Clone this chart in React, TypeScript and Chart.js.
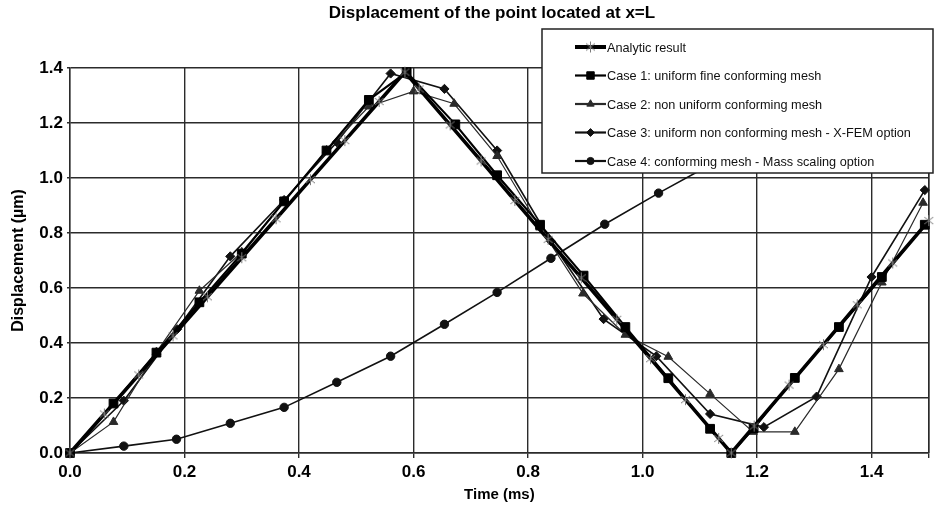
import React, { useEffect, useRef } from 'react';
import { Chart, registerables } from 'chart.js';

Chart.register(...registerables);

// ---------- text ----------
const chartTitle = 'Displacement of the point located at x=L';
const xAxisTitle = 'Time (ms)';
const yAxisTitle = 'Displacement (µm)';
const seriesNames = [
  'Analytic result',
  'Case 1: uniform fine conforming mesh',
  'Case 2: non uniform conforming mesh',
  'Case 3: uniform non conforming mesh - X-FEM option',
  'Case 4: conforming mesh - Mass scaling option',
];

// ---------- ticks ----------
const xTickValues = [0, 0.2, 0.4, 0.6, 0.8, 1.0, 1.2, 1.4, 1.5];
const xTickLabels = ['0.0', '0.2', '0.4', '0.6', '0.8', '1.0', '1.2', '1.4', ''];
const yTickValues = [0, 0.2, 0.4, 0.6, 0.8, 1.0, 1.2, 1.4];
const yTickLabels = ['0.0', '0.2', '0.4', '0.6', '0.8', '1.0', '1.2', '1.4'];

// ---------- data (time in ms, displacement in µm) ----------
const analyticT = [0, 0.06, 0.12, 0.18, 0.24, 0.3, 0.36, 0.42, 0.48, 0.54, 0.585, 0.61, 0.664, 0.718, 0.777, 0.835, 0.893, 0.955, 1.014, 1.075, 1.133, 1.155, 1.195, 1.256, 1.316, 1.375, 1.437, 1.5];
const analyticY = [0, 0.142, 0.284, 0.426, 0.568, 0.71, 0.852, 0.994, 1.136, 1.278, 1.385, 1.324, 1.193, 1.062, 0.918, 0.777, 0.637, 0.486, 0.343, 0.194, 0.053, 0, 0.098, 0.247, 0.394, 0.539, 0.691, 0.845];

const case1T = [0, 0.076, 0.151, 0.226, 0.3, 0.374, 0.448, 0.522, 0.588, 0.673, 0.746, 0.821, 0.897, 0.97, 1.045, 1.118, 1.155, 1.194, 1.266, 1.343, 1.418, 1.493];
const case1Y = [0, 0.18, 0.365, 0.548, 0.725, 0.915, 1.1, 1.284, 1.385, 1.195, 1.01, 0.83, 0.645, 0.458, 0.272, 0.088, 0, 0.09, 0.273, 0.458, 0.64, 0.83];

const case2T = [0, 0.076, 0.151, 0.226, 0.3, 0.374, 0.448, 0.522, 0.6, 0.671, 0.746, 0.821, 0.896, 0.97, 1.045, 1.118, 1.193, 1.266, 1.343, 1.418, 1.49];
const case2Y = [0, 0.113, 0.367, 0.59, 0.73, 0.915, 1.1, 1.26, 1.315, 1.27, 1.08, 0.82, 0.58, 0.43, 0.35, 0.215, 0.077, 0.077, 0.305, 0.62, 0.91];

const case3T = [0, 0.094, 0.187, 0.28, 0.374, 0.466, 0.56, 0.654, 0.746, 0.84, 0.932, 1.024, 1.118, 1.212, 1.304, 1.4, 1.493];
const case3Y = [0, 0.19, 0.45, 0.715, 0.92, 1.13, 1.38, 1.324, 1.1, 0.77, 0.487, 0.352, 0.142, 0.094, 0.205, 0.64, 0.956];

const case4T = [0, 0.094, 0.186, 0.28, 0.374, 0.466, 0.56, 0.654, 0.746, 0.84, 0.934, 1.028, 1.12, 1.213, 1.306, 1.4, 1.493];
const case4Y = [0, 0.025, 0.05, 0.108, 0.166, 0.257, 0.352, 0.468, 0.584, 0.708, 0.832, 0.945, 1.05, 1.14, 1.22, 1.29, 1.35];

const seriesT = [analyticT, case1T, case2T, case3T, case4T];
const seriesY = [analyticY, case1Y, case2Y, case3Y, case4Y];

// ---------- styling ----------
const FONT = "'Liberation Sans', Arial, Helvetica, sans-serif";
const GRID = '#2b2b2b';

function makeAsterisk(): HTMLCanvasElement {
  const c = document.createElement('canvas');
  c.width = 13;
  c.height = 13;
  const g = c.getContext('2d')!;
  g.strokeStyle = '#7a7a7a';
  g.lineWidth = 1;
  g.beginPath();
  g.moveTo(2, 3); g.lineTo(11, 10);
  g.moveTo(11, 3); g.lineTo(2, 10);
  g.moveTo(6.5, 1); g.lineTo(6.5, 12);
  g.stroke();
  return c;
}

type Style = { width: number; color: string; marker: string; radius: number; fill: string };
const seriesStyles: Style[] = [
  { width: 3.6, color: '#000', marker: 'asterisk', radius: 6, fill: '#000' },
  { width: 2.2, color: '#000', marker: 'rect', radius: 6.2, fill: '#000' },
  { width: 1.2, color: '#2a2a2a', marker: 'triangle', radius: 5, fill: '#2a2a2a' },
  { width: 1.6, color: '#111', marker: 'rectRot', radius: 4.6, fill: '#111' },
  { width: 1.6, color: '#111', marker: 'circle', radius: 4.2, fill: '#111' },
];

function drawMarker(ctx: CanvasRenderingContext2D, s: Style, x: number, y: number, ast: HTMLCanvasElement) {
  ctx.save();
  ctx.fillStyle = s.fill;
  ctx.strokeStyle = s.color;
  ctx.lineWidth = 1;
  const r = s.radius;
  ctx.beginPath();
  if (s.marker === 'asterisk') {
    ctx.drawImage(ast, x - ast.width / 2, y - ast.height / 2);
    ctx.restore();
    return;
  } else if (s.marker === 'rect') {
    const h = r * Math.SQRT1_2;
    ctx.rect(x - h, y - h, 2 * h, 2 * h);
  } else if (s.marker === 'rectRot') {
    ctx.moveTo(x, y - r); ctx.lineTo(x + r, y); ctx.lineTo(x, y + r); ctx.lineTo(x - r, y); ctx.closePath();
  } else if (s.marker === 'triangle') {
    for (let i = 0; i < 3; i++) {
      const a = (i * 2 * Math.PI) / 3;
      const px = x + Math.sin(a) * r;
      const py = y - Math.cos(a) * r;
      if (i === 0) ctx.moveTo(px, py); else ctx.lineTo(px, py);
    }
    ctx.closePath();
  } else {
    ctx.arc(x, y, r, 0, Math.PI * 2);
  }
  ctx.fill();
  ctx.stroke();
  ctx.restore();
}

export default function App() {
  const ref = useRef<HTMLCanvasElement | null>(null);

  useEffect(() => {
    if (!ref.current) return;
    const ast = makeAsterisk();

    const overlay = {
      id: 'overlay',
      beforeDatasetsDraw(chart: any) {
        const { ctx, chartArea } = chart;
        ctx.save();
        ctx.strokeStyle = GRID;
        ctx.lineWidth = 1.4;
        ctx.beginPath();
        ctx.moveTo(chartArea.right, chartArea.top);
        ctx.lineTo(chartArea.right, chartArea.bottom);
        ctx.stroke();
        ctx.restore();
      },
      afterDraw(chart: any) {
        const { ctx } = chart;
        ctx.save();
        // title
        ctx.fillStyle = '#000';
        ctx.font = `bold 17px ${FONT}`;
        ctx.textAlign = 'center';
        ctx.textBaseline = 'middle';
        ctx.fillText(chartTitle, 492, 13);
        // legend box
        const bx = 542, by = 29, bw = 391, bh = 144;
        ctx.fillStyle = '#fff';
        ctx.fillRect(bx, by, bw, bh);
        ctx.strokeStyle = '#222';
        ctx.lineWidth = 1.5;
        ctx.strokeRect(bx, by, bw, bh);
        ctx.font = `12.7px ${FONT}`;
        ctx.textAlign = 'left';
        ctx.textBaseline = 'middle';
        seriesNames.forEach((name, i) => {
          const s = seriesStyles[i];
          const y = 47 + i * 28.5;
          ctx.strokeStyle = s.color;
          ctx.lineWidth = i === 0 ? 4 : 2.2;
          ctx.beginPath();
          ctx.moveTo(575, y);
          ctx.lineTo(606, y);
          ctx.stroke();
          drawMarker(ctx, { ...s, radius: s.radius * 0.85 }, 590.5, y, ast);
          ctx.fillStyle = '#111';
          ctx.fillText(name, 607, y + 1);
        });
        ctx.restore();
      },
    };

    const datasets = seriesNames.map((name, i) => {
      const s = seriesStyles[i];
      return {
        label: name,
        data: seriesT[i].map((t, k) => ({ x: t, y: seriesY[i][k] })),
        borderColor: s.color,
        backgroundColor: s.fill,
        borderWidth: s.width,
        pointStyle: s.marker === 'asterisk' ? ast : s.marker,
        pointRadius: s.radius,
        pointBorderWidth: 1,
        pointBorderColor: s.marker === 'asterisk' ? '#777' : s.color,
        pointBackgroundColor: s.fill,
        tension: 0,
        clip: false as any,
      };
    });

    const chart = new Chart(ref.current, {
      type: 'line',
      data: { datasets },
      plugins: [overlay],
      options: {
        animation: false,
        responsive: false,
        layout: { padding: { top: 68, right: 4, bottom: 0, left: 0 } },
        plugins: { legend: { display: false }, title: { display: false }, tooltip: { enabled: false } },
        scales: {
          x: {
            type: 'linear',
            min: 0,
            max: 1.5,
            afterBuildTicks: (scale: any) => {
              scale.ticks = xTickValues.map((v) => ({ value: v }));
            },
            afterFit: (scale: any) => {
              scale.height = 55;
            },
            grid: { color: GRID, lineWidth: 1.4, tickLength: 5, drawTicks: true },
            border: { color: GRID, width: 1.4 },
            ticks: {
              autoSkip: false,
              maxRotation: 0,
              padding: 4,
              color: '#000',
              font: { family: FONT, size: 17, weight: 'bold' },
              callback: (v: any, idx: number) => xTickLabels[idx],
            },
            title: {
              display: true,
              text: xAxisTitle,
              color: '#000',
              font: { family: FONT, size: 15, weight: 'bold' },
              padding: { top: 0, bottom: 4 },
            },
          },
          y: {
            type: 'linear',
            min: 0,
            max: 1.4,
            afterBuildTicks: (scale: any) => {
              scale.ticks = yTickValues.map((v) => ({ value: v }));
            },
            afterFit: (scale: any) => {
              scale.width = 70;
            },
            grid: { color: GRID, lineWidth: 1.4, tickLength: 3 },
            border: { color: GRID, width: 1.4 },
            ticks: {
              padding: 4,
              color: '#000',
              font: { family: FONT, size: 17, weight: 'bold' },
              callback: (v: any, idx: number) => yTickLabels[idx],
            },
            title: {
              display: true,
              text: yAxisTitle,
              color: '#000',
              font: { family: FONT, size: 16, weight: 'bold' },
              padding: { top: 9, bottom: 0 },
            },
          },
        },
      } as any,
    });

    return () => chart.destroy();
  }, []);

  return (
    <div style={{ position: 'fixed', left: 0, top: 0, width: 936, height: 508, background: '#fff' }}>
      <canvas ref={ref} width={936} height={508} style={{ display: 'block', width: 936, height: 508 }} />
    </div>
  );
}
